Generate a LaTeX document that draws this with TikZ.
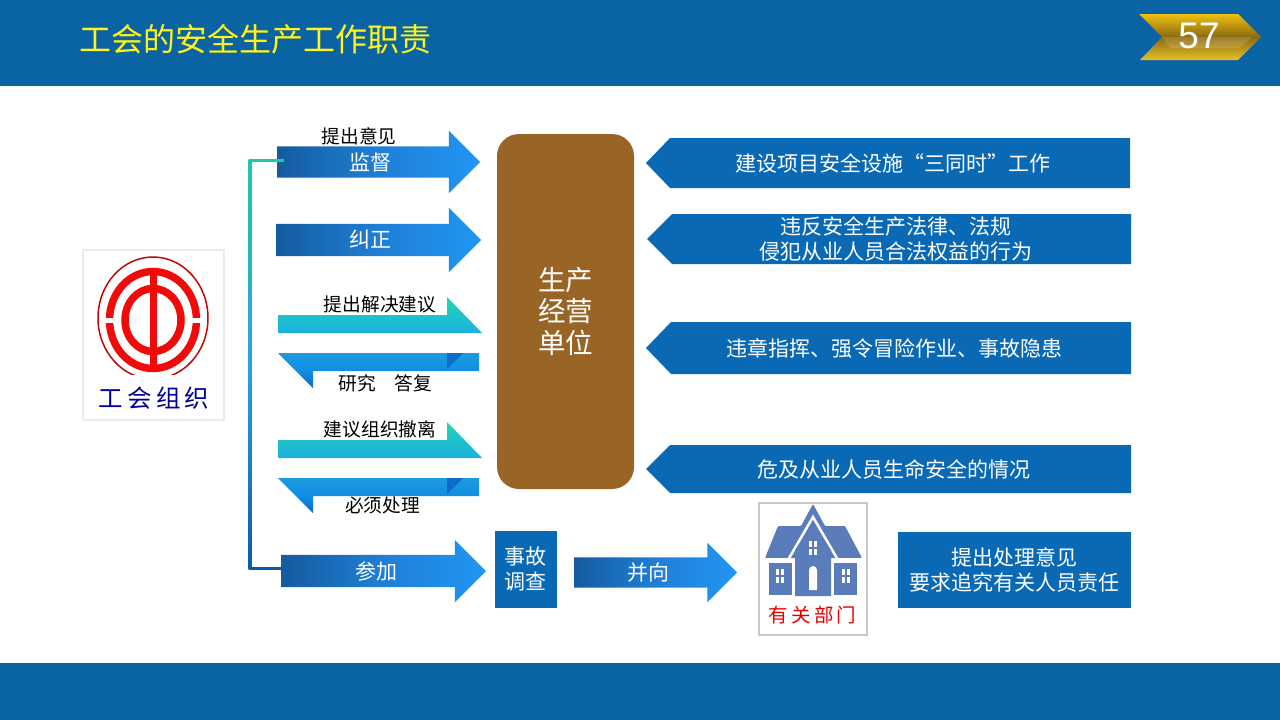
\documentclass[tikz,border=0pt]{standalone}
\usepackage{fontspec}
\setmainfont{Noto Sans CJK SC}
\newfontfamily\numfont{Liberation Sans}
\usetikzlibrary{shapes.arrows, positioning}

\definecolor{bandblue}{HTML}{0A64A4}
\definecolor{boxblue}{HTML}{0A69B5}
\definecolor{brownbox}{HTML}{996526}
\definecolor{housecol}{HTML}{5B7CBA}
\definecolor{logored}{HTML}{F00A0A}
\definecolor{arrowstart}{HTML}{145B9F}
\definecolor{arrowmid}{HTML}{1F7FD6}
\definecolor{arrowend}{HTML}{2196F3}
\definecolor{linetop}{HTML}{1FC8A8}
\definecolor{linemid}{HTML}{2AA4D8}
\definecolor{linelow}{HTML}{0A5AA8}
\definecolor{goldtop}{HTML}{F0C010}
\definecolor{goldmid}{HTML}{8A6A10}
\definecolor{goldlow}{HTML}{E8BE28}
\definecolor{upperhead}{HTML}{22D6B0}
\definecolor{upperlow}{HTML}{1CB0E0}
\definecolor{lowertop}{HTML}{1F9ADB}
\definecolor{lowermid}{HTML}{0F8EE6}
\definecolor{lowertip}{HTML}{0868C8}
\definecolor{foldcol}{HTML}{0D6CCC}

\tikzset{
    bluearrow/.style={single arrow, anchor=tail, inner xsep=0pt, outer sep=0pt, shape border rotate=0,
        left color=arrowstart, right color=arrowend, middle color=arrowmid},
    armtext/.style={white, font=\fontsize{21}{25}\selectfont},
    tagtext/.style={white, align=center, font=\fontsize{21}{24.5}\selectfont},
    sidetext/.style={black, font=\fontsize{18.7}{22}\selectfont},
    tagbox/.style={fill=boxblue},
    picframe/.style={draw=#1, line width=2pt, fill=white},
}

\begin{document}
\begin{tikzpicture}[x=1pt, y=-1pt]
    \useasboundingbox (0, 0) rectangle (1280, 720);

    % bands
    \fill [bandblue] (0, 0) rectangle (1280, 86);
    \fill [bandblue] (0, 663) rectangle (1280, 720);
    \node [text=yellow!90!white, font=\fontsize{32}{36}\selectfont] (title) at (255.5, 39) {工会的安全生产工作职责};

    % page badge
    \shade [top color=goldtop, bottom color=goldlow, middle color=goldmid]
        (1139, 14) -- (1238, 14) -- (1261, 37) -- (1238, 60) -- (1140, 60) -- (1162, 37) -- cycle;
    \fill [white, opacity=0.14] (1162, 37) -- (1252, 37) -- (1240, 48) -- (1170, 48) -- cycle;
    \node [white, font=\numfont\fontsize{37}{40}\selectfont] (pageno) at (1199, 36) {57};

    % logo
    \draw [picframe=black!8] (83, 250) rectangle (224, 420);
    \draw [logored!80!black, line width=1.5pt] (153, 318) ellipse [x radius=55, y radius=61];
    \draw [logored, line width=7.5pt] (153, 320) ellipse [x radius=43.5, y radius=48.5];
    \fill [white] (100, 318) rectangle (206, 323);
    \draw [logored, line width=7.5pt] (153, 320) ellipse [x radius=28, y radius=31.5];
    \fill [logored] (149.5, 270) rectangle (157, 370);
    \fill [white] (90, 375) rectangle (216, 384);
    \node [text=blue!60!black, font=\fontsize{24.5}{28}\selectfont] (logotext) at (154, 398) {工\,会\,组\,织};

    % arrows
    \node [bluearrow, minimum height=203pt, inner ysep=15.5pt, single arrow head extend=15.5pt] (jiandu) at (277, 162) {};
    \node [bluearrow, minimum height=205pt, inner ysep=16pt, single arrow head extend=16pt] (jiuzheng) at (276, 240) {};
    \node [bluearrow, minimum height=205pt, inner ysep=16pt, single arrow head extend=15pt] (canjia) at (281, 571) {};
    \node [bluearrow, minimum height=163pt, inner ysep=15pt, single arrow head extend=14.5pt] (bingxiang) at (574, 572.5) {};

    % connector
    \coordinate (elbowtop) at (250, 160.5);
    \coordinate (elbowlow) at (250, 568);
    \draw [line width=3pt, linetop] ([xshift=7pt, yshift=1.5pt]jiandu.tail) -- (elbowtop);
    \shade [top color=linetop, bottom color=linelow, middle color=linemid]
        (248.5, 159) rectangle (251.5, 569.5);
    \draw [line width=3pt, linelow] (elbowlow) -- ([yshift=3pt]canjia.tail);

    \node [armtext] (jiandutext) at (370, 162) {监督};
    \node [armtext] (jiuzhengtext) at (370, 240) {纠正};
    \node [armtext] (canjiatext) at (376, 571) {参加};
    \node [armtext] (bingxiangtext) at (648.5, 572.5) {并向};

    % half arrows
    \foreach \dy in {0, 125} {
        \shade [top color=upperhead, bottom color=upperlow]
            (278, 315+\dy) -- (447, 315+\dy) -- (447, 297+\dy) -- (482, 333+\dy) -- (278, 333+\dy) -- cycle;
        \shade [top color=lowertop, bottom color=lowertip, middle color=lowermid]
            (278, 353+\dy) -- (479, 353+\dy) -- (479, 371+\dy) -- (313, 371+\dy) -- (313, 388+\dy) -- cycle;
        \fill [foldcol] (447, 353+\dy) -- (463, 353+\dy) -- (447, 369+\dy) -- cycle;
    }
    \node [sidetext] (yijian) at (359, 136) {提出意见};
    \node [sidetext] (jianyi) at (380, 304) {提出解决建议};
    \node [sidetext] (dafu) at (385.5, 383) {研究\hspace{1em}答复};
    \node [sidetext] (cheli) at (380, 429) {建议组织撤离};
    \node [sidetext] (chuli) at (382.5, 505) {必须处理};

    % centre box
    \fill [brownbox, rounded corners=22pt] (497, 134) rectangle (634, 489);
    \node [white, align=center, font=\fontsize{27.5}{31.5}\selectfont] (danwei) at (565.5, 311.5) {生产\\经营\\单位};

    % right side tags
    \fill [tagbox] (646, 163) -- (670, 138) -- (1130, 138) -- (1130, 188) -- (670, 188) -- cycle;
    \fill [tagbox] (647, 239) -- (672, 214) -- (1131, 214) -- (1131, 264) -- (672, 264) -- cycle;
    \fill [tagbox] (646, 348) -- (671, 322) -- (1131, 322) -- (1131, 374) -- (671, 374) -- cycle;
    \fill [tagbox] (646, 469) -- (670, 445) -- (1131, 445) -- (1131, 493) -- (670, 493) -- cycle;
    \node [tagtext] (santongshi) at (893, 163) {建设项目安全设施“三同时”工作};
    \node [tagtext] (weifan) at (895.5, 239) {违反安全生产法律、法规\\侵犯从业人员合法权益的行为};
    \node [tagtext] (weizhang) at (894, 348) {违章指挥、强令冒险作业、事故隐患};
    \node [tagtext] (weiji) at (894, 469) {危及从业人员生命安全的情况};

    % bottom row
    \fill [tagbox] (495, 531) rectangle (557, 608);
    \node [tagtext] (shigu) at (525, 569) {事故\\调查};
    \fill [tagbox] (898, 532) rectangle (1131, 608);
    \node [tagtext] (chuliyijian) at (1014, 570) {提出处理意见\\要求追究有关人员责任};

    % house
    \draw [picframe=black!22] (759, 503) rectangle (866.5, 635);
    \fill [housecol, rounded corners=1pt] (765, 558) -- (778, 526) -- (801, 526) -- (813, 504) -- (825, 526) -- (845, 526) -- (862, 558) -- cycle;
    \draw [white, line width=2.5pt] (788, 560) -- (813, 517) -- (838, 560);
    \fill [housecol] (813, 524) -- (831, 550) -- (831, 596) -- (795, 596) -- (795, 550) -- cycle;
    \fill [white] (765, 558) rectangle (790, 563);
    \fill [white] (836, 558) rectangle (862, 563);
    \fill [housecol] (769, 563) rectangle (792, 595);
    \fill [housecol] (834, 563) rectangle (857, 595);
    \fill [white] (809, 590) -- (809, 570) arc [start angle=180, end angle=360, radius=4] -- (817, 590) -- cycle;
    \foreach \wx/\wy in {809/541, 776/569, 842/569} {
        \fill [white] (\wx, \wy) rectangle (\wx+3.2, \wy+6);
        \fill [white] (\wx+4.8, \wy) rectangle (\wx+8, \wy+6);
        \fill [white] (\wx, \wy+8) rectangle (\wx+3.2, \wy+14);
        \fill [white] (\wx+4.8, \wy+8) rectangle (\wx+8, \wy+14);
    }
    \node [text=red!90!black, font=\fontsize{19.5}{24}\selectfont] (bumen) at (812.5, 615) {有\,关\,部\,门};
\end{tikzpicture}
\end{document}
